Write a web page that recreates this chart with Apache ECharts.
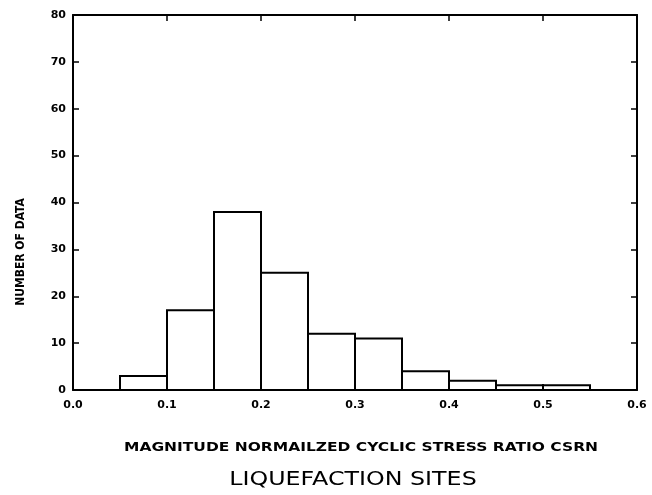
<!DOCTYPE html>
<html>
<head>
<meta charset="utf-8">
<script src="https://cdn.jsdelivr.net/npm/echarts@6/dist/echarts.min.js"></script>
<style>
html,body{margin:0;padding:0;background:#fff;}
#chart{width:652px;height:495px;}
</style>
</head>
<body>
<div id="chart"></div>
<script>
// Histogram bins (CSRN) and counts
var binStart = [0.05, 0.10, 0.15, 0.20, 0.25, 0.30, 0.35, 0.40, 0.45, 0.50];
var binEnd   = [0.10, 0.15, 0.20, 0.25, 0.30, 0.35, 0.40, 0.45, 0.50, 0.55];
var counts   = [3, 17, 38, 25, 12, 11, 4, 2, 1, 1];
var xTicks = ['0.0', '0.1', '0.2', '0.3', '0.4', '0.5', '0.6'];
var yTicks = ['0', '10', '20', '30', '40', '50', '60', '70', '80'];
var xTitle = 'MAGNITUDE NORMAILZED CYCLIC STRESS RATIO CSRN';
var yTitle = 'NUMBER OF DATA';
var caption = 'LIQUEFACTION SITES';

var data = binStart.map(function (s, i) { return [s, binEnd[i], counts[i]]; });

var chart = echarts.init(document.getElementById('chart'));
var lab = { fontFamily: 'DejaVu Sans', fontWeight: 'bold', fontSize: 11, color: '#000' };
var axLine = { show: true, onZero: false, lineStyle: { color: '#000', width: 2 } };
var tick = { show: true, inside: true, length: 6, lineStyle: { color: '#000', width: 1.5 } };
chart.setOption({
  animation: false,
  backgroundColor: '#fff',
  grid: { left: 73, right: 15, top: 15, bottom: 105 },
  xAxis: [{
    type: 'value', min: 0, max: 0.6, interval: 0.1, position: 'bottom',
    axisLine: axLine, axisTick: tick,
    axisLabel: Object.assign({ margin: 10, formatter: function (v) { return xTicks[Math.round(v * 10)]; } }, lab),
    splitLine: { show: false }
  }, {
    type: 'value', min: 0, max: 0.6, interval: 0.1, position: 'top',
    axisLine: axLine, axisTick: tick,
    axisLabel: { show: false }, splitLine: { show: false }
  }],
  yAxis: [{
    type: 'value', min: 0, max: 80, interval: 10, position: 'left',
    axisLine: axLine, axisTick: tick,
    axisLabel: Object.assign({ margin: 7, formatter: function (v) { return yTicks[Math.round(v / 10)]; } }, lab),
    splitLine: { show: false }
  }, {
    type: 'value', min: 0, max: 80, interval: 10, position: 'right',
    axisLine: axLine, axisTick: tick,
    axisLabel: { show: false }, splitLine: { show: false }
  }],
  series: [{
    type: 'custom',
    xAxisIndex: 0, yAxisIndex: 0,
    data: data,
    encode: { x: [0, 1], y: 2 },
    renderItem: function (params, api) {
      var p0 = api.coord([api.value(0), 0]);
      var p1 = api.coord([api.value(1), api.value(2)]);
      return {
        type: 'rect',
        shape: { x: p0[0], y: p1[1], width: p1[0] - p0[0], height: p0[1] - p1[1] },
        style: { fill: '#fff', stroke: '#000', lineWidth: 2 }
      };
    }
  }],
  graphic: [{
    type: 'text', x: 21, y: 252, rotation: Math.PI / 2,
    style: { text: yTitle, x: 0, y: 0, textAlign: 'center', textVerticalAlign: 'middle',
      fontFamily: 'DejaVu Sans Condensed', fontWeight: 'bold', fontSize: 12, fill: '#000' }
  }, {
    type: 'text', x: 361, y: 448, scaleX: 1.29,
    style: { text: xTitle, x: 0, y: 0, textAlign: 'center', textVerticalAlign: 'middle',
      fontFamily: 'DejaVu Sans', fontWeight: 'bold', fontSize: 12, fill: '#000' }
  }, {
    type: 'text', x: 353, y: 480, scaleX: 1.25,
    style: { text: caption, x: 0, y: 0, textAlign: 'center', textVerticalAlign: 'middle',
      fontFamily: 'DejaVu Sans', fontSize: 19, fill: '#000' }
  }]
});
</script>
</body>
</html>
